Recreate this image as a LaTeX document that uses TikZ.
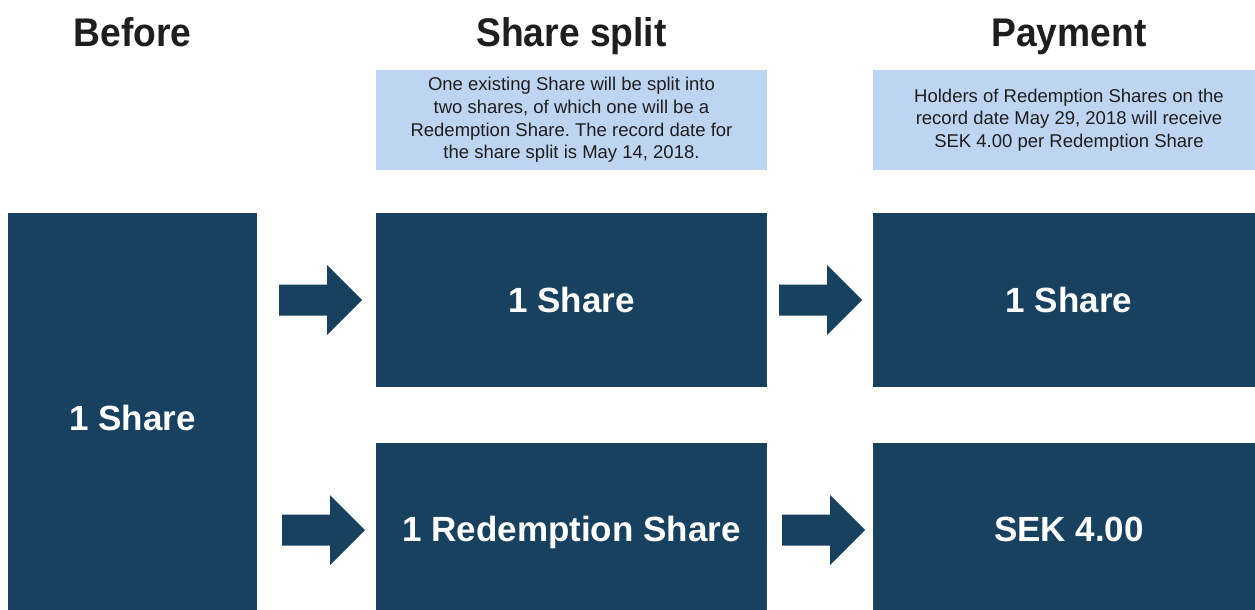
\documentclass[tikz,border=0pt]{standalone}
\usepackage{fontspec}
\setmainfont{Liberation Sans}
\newfontfamily\headfont[FakeStretch=0.93]{Liberation Sans}
\usetikzlibrary{calc}
\definecolor{navy}{HTML}{17415F}
\definecolor{pale}{HTML}{BED5F2}
\definecolor{ink}{HTML}{1E1E1E}
\frenchspacing
\tikzset{
  darkbox/.style={fill=navy, draw=none, anchor=north west, inner sep=0pt, outer sep=0pt,
    text=white, font=\fontsize{35}{40}\selectfont\bfseries, text height=25pt, text depth=0pt, align=center},
  notebox/.style={fill=pale, draw=none, anchor=north west, inner sep=0pt, outer sep=0pt,
    text=ink, font=\fontsize{18.5}{22.7}\selectfont, align=center},
  heading/.style={font=\headfont\bfseries\fontsize{40}{44}\selectfont, anchor=base, text=ink, inner sep=0pt},
  blockarr/.pic={\fill[navy] (0,-15.5) -- (48,-15.5) -- (48,-35) -- (83,0) -- (48,35) -- (48,15.5) -- (0,15.5) -- cycle;}
}
\begin{document}
\begin{tikzpicture}[x=1pt,y=-1pt]
\path[use as bounding box, clip] (0,0) rectangle (1255,610);
\fill[white] (0,0) rectangle (1255,610);
% boxes
\node[darkbox, minimum width=249pt, minimum height=410pt] (L) at (8,213) {1 Share};
\node[darkbox, minimum width=391pt, minimum height=174pt] (M1) at (376,213) {1 Share};
\node[darkbox, minimum width=391pt, minimum height=172pt] (M2) at (376,443) {1 Redemption Share};
\node[darkbox, minimum width=392pt, minimum height=174pt] (R1) at (873,213) {1 Share};
\node[darkbox, minimum width=392pt, minimum height=172pt] (R2) at (873,443) {SEK 4.00};
% notes
\node[notebox, minimum width=391pt, minimum height=100pt] (N1) at (376,70)
  {One existing Share will be split into\\two shares, of which one will be a\\Redemption Share. The record date for\\the share split is May 14, 2018.};
\node[notebox, minimum width=392pt, minimum height=100pt] (N2) at (873,70)
  {Holders of Redemption Shares on the\\record date May 29, 2018 will receive\\SEK 4.00 per Redemption Share};
% headings
\coordinate (hl) at (0,47);
\node[heading] (H1) at (L.north |- hl) {Before};
\node[heading] (H2) at (M1.north |- hl) {Share split};
\node[heading] (H3) at (R1.north |- hl) {Payment};
% block arrows
\pic at ($(L.east |- M1.west)+(22,0)$) {blockarr};
\pic at ($(L.east |- M2.west)+(25,1)$) {blockarr};
\pic at ($(M1.east)+(12,0)$) {blockarr};
\pic at ($(M2.east)+(15,1)$) {blockarr};
\end{tikzpicture}
\end{document}
